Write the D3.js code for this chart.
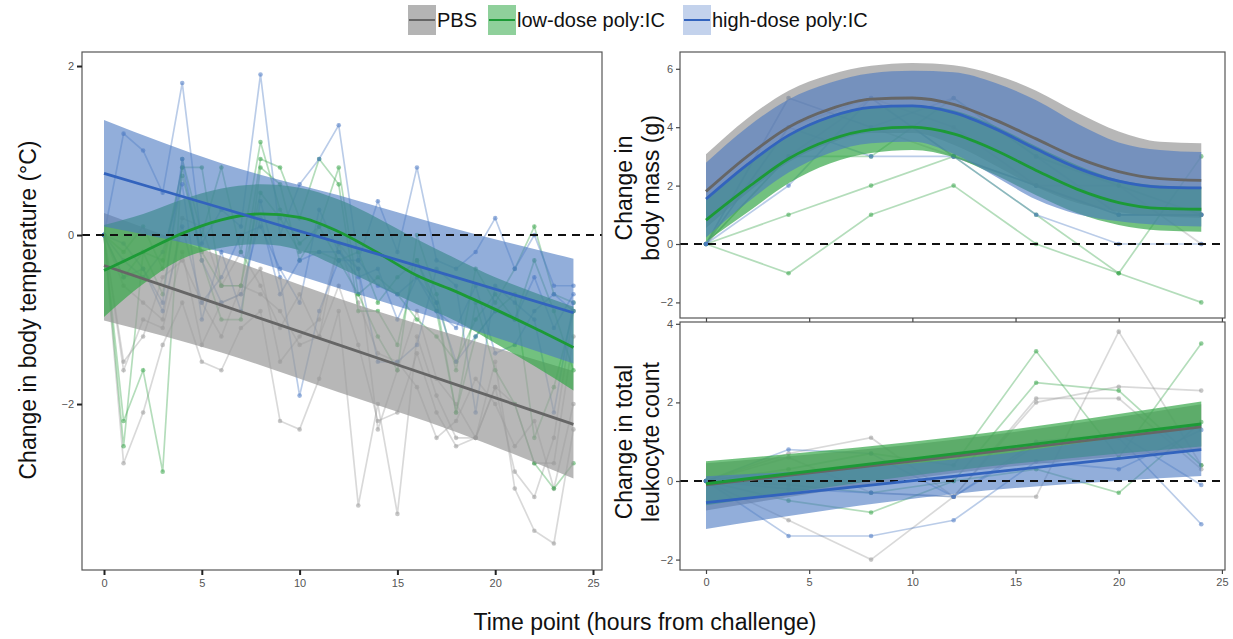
<!DOCTYPE html>
<html><head><meta charset="utf-8">
<script src="https://cdn.jsdelivr.net/npm/d3@7"></script>
<style>body{margin:0;background:#fff;} text{font-family:"Liberation Sans",Arial,sans-serif;}</style>
</head><body>
<script>
// ---------- DATA ----------
const groups = ["PBS", "low-dose poly:IC", "high-dose poly:IC"];

// Body temperature (hourly)
const tempHours = [0,1,2,3,4,5,6,7,8,9,10,11,12,13,14,15,16,17,18,19,20,21,22,23,24];
const tempPBS = [
  [0,-2.7,-2.1,-1.3,-0.8,-1.5,-1.6,-1.1,-0.9,-2.2,-2.3,-1.7,-0.9,-3.2,-2.0,-3.3,-1.2,-1.9,-2.4,-2.4,-1.5,-3.0,-3.5,-3.65,-2.3],
  [0,-1.6,-1.0,-1.1,-0.2,-1.3,-0.8,-0.7,-0.4,-1.5,-1.2,-1.0,-0.1,-0.4,-2.3,-1.6,-0.9,-1.7,-2.0,-2.4,-1.8,-2.8,-3.1,-2.4,-0.9],
  [0,-1.5,-1.2,-0.5,-0.3,-0.8,-1.2,-0.6,-0.7,-0.9,-1.3,-1.2,-0.6,-1.3,-2.2,-2.1,-1.4,-2.1,-2.5,-2.4,-1.8,-2.0,-2.7,-2.7,-1.2],
  [0,-0.6,-0.8,-1.0,0.2,0.1,-0.6,-0.2,-0.6,-1.1,-0.7,-1.2,-0.1,-0.8,-1.4,-1.5,-1.8,-2.4,-2.2,-1.7,-2.0,-2.5,-2.2,-3.0,-2.0]
];
const tempLow = [
  [0,-2.2,-1.6,-2.8,0.9,0.0,0.8,-0.2,1.1,0.3,-0.1,0.1,0.8,-0.7,-1.2,-1.6,0.0,-0.7,-1.6,-0.4,-0.8,-0.4,0.1,-0.7,-0.8],
  [0,-2.5,-0.2,-0.7,0.7,-0.2,-0.6,-0.6,0.9,0.8,0.2,0.9,0.6,-0.9,-0.9,-1.3,-0.3,-0.9,-2.1,-0.8,-1.6,-2.0,-2.7,-3.0,-2.7],
  [0,-0.2,0.1,-0.4,0.8,0.8,-0.6,-0.6,0.5,0.2,-0.2,-0.2,-0.3,-0.7,-0.5,-0.7,-1.0,-1.2,-1.5,-1.0,-0.7,-1.0,-0.3,-0.9,-1.6],
  [0,-0.5,-0.2,-0.3,0.8,-0.3,-1.0,-1.0,0.8,0.6,-0.3,0.1,-0.3,-0.2,-0.8,-0.5,-0.3,-0.8,-2.1,-1.2,-0.9,-0.7,-2.4,-1.8,-0.9]
];
const tempHigh = [
  [0,1.2,1.0,0.5,1.8,-0.1,0.3,0.1,1.9,0.0,0.6,0.9,1.3,-0.3,0.4,-0.2,0.8,-0.3,-0.4,-0.2,0.2,-0.4,0.0,-0.6,-0.6],
  [0,-0.5,-0.4,-0.9,0.1,-0.8,-0.5,0.0,0.1,-0.4,-0.8,0.3,-0.2,-0.4,-1.5,-1.5,-1.3,-0.4,-0.6,-2.1,-0.6,-0.8,-1.0,-2.1,-0.8],
  [0,-0.3,-0.5,-0.2,0.6,-1.0,-0.2,-0.9,0.4,-0.5,-1.9,-0.9,-0.3,-0.3,-0.6,-0.7,-0.5,-0.9,-1.1,-0.6,-1.4,-1.3,-0.9,-0.7,-0.9],
  [0,-0.1,-0.4,-0.8,0.9,-0.3,-0.8,-0.7,0.2,-0.7,-0.3,-0.2,-0.2,-0.5,-0.4,-1.0,-0.5,-0.8,-1.5,-1.2,-0.9,-1.0,-0.5,-1.1,-0.7]
];
// Temperature fits
const tempFitLinT = [0, 6, 12, 18, 24];
const tempFitPBS = [-0.36, -0.83, -1.30, -1.77, -2.24];
const tempHiPBS  = [0.26, -0.25, -0.75, -1.19, -1.61];
const tempLoPBS  = [-1.01, -1.39, -1.86, -2.33, -2.88];
const tempFitHigh = [0.73, 0.32, -0.09, -0.50, -0.92];
const tempHiHigh  = [1.36, 0.85, 0.47, 0.07, -0.28];
const tempLoHigh  = [0.10, -0.20, -0.63, -1.06, -1.52];
const tempFitSmT = [0,2,4,6,8,10,12,14,16,18,20,22,24];
const tempFitLow = [-0.42,-0.20,0.02,0.18,0.25,0.21,0.04,-0.21,-0.48,-0.67,-0.88,-1.10,-1.33];
const tempHiLow  = [0.12,0.25,0.42,0.55,0.60,0.56,0.42,0.20,-0.05,-0.28,-0.50,-0.68,-0.85];
const tempLoLow  = [-0.97,-0.58,-0.28,-0.15,-0.11,-0.18,-0.38,-0.60,-0.82,-1.02,-1.28,-1.55,-1.84];

// Body mass (every 4 h)
const sampleHours = [0,4,8,12,16,20,24];
const massPBS  = [[0,5,4,3,2,1,1],[0,4,5,4,2,2,0],[0,3,5,3,2,1,1]];
const massLow  = [[0,-1,1,2,0,-1,-2],[0,1,2,3,1,-1,3],[0,3,3,5,3,2,1]];
const massHigh = [[0,2,5,3,2,1,1],[0,4,3,3,1,0,0],[0,5,4,5,3,1,1]];
const massFitT = [0,2,4,6,8,10,12,14,16,18,20,22,24];
const massFitPBS = [1.8,3.0,4.0,4.62,4.96,5.0,4.78,4.25,3.6,2.95,2.48,2.24,2.18];
const massHiPBS  = [3.07,4.3,5.25,5.8,6.1,6.2,6.12,5.8,5.25,4.5,3.85,3.5,3.45];
const massLoPBS  = [0.55,1.75,2.8,3.45,3.8,3.8,3.4,2.7,1.95,1.4,1.1,0.95,0.9];
const massFitHigh = [1.54,2.72,3.72,4.35,4.68,4.73,4.5,3.95,3.25,2.6,2.15,1.95,1.92];
const massHiHigh  = [2.78,4.0,4.95,5.52,5.85,5.93,5.88,5.52,4.92,4.12,3.48,3.22,3.15];
const massLoHigh  = [0.22,1.42,2.45,3.12,3.45,3.5,3.08,2.32,1.52,1.02,0.78,0.65,0.6];
const massFitLow = [0.82,1.92,2.92,3.57,3.92,4.0,3.77,3.22,2.52,1.87,1.42,1.22,1.19];
const massHiLow  = [1.55,2.75,3.75,4.4,4.7,4.75,4.58,4.05,3.35,2.7,2.2,2.0,1.95];
const massLoLow  = [0.08,1.08,2.08,2.76,3.12,3.22,2.97,2.37,1.67,1.05,0.65,0.46,0.42];

// Leukocyte count (every 4 h)
const leukPBS  = [[0,0.7,1.1,-0.4,2.0,2.4,2.3],[0,-1.0,-2.0,-0.4,2.1,2.1,0.3],[0,0.6,-0.3,-0.4,-0.4,3.8,0.4]];
const leukLow  = [[0,0.3,0.7,0.4,3.3,0.6,3.5],[0,-0.5,-0.8,0.0,2.5,2.3,0.4],[0,-0.1,-0.3,0.0,0.3,-0.3,1.5]];
const leukHigh = [[0,0.8,0.7,-0.4,1.0,1.2,-0.1],[0,-1.4,-1.4,-1.0,0.5,0.3,1.3],[0,-0.2,-0.3,-0.4,0.9,1.1,-1.1]];
const leukFitT = [0, 12, 24];
const leukFitPBS = [-0.1, 0.63, 1.38];
const leukHiPBS  = [0.45, 1.05, 1.95];
const leukLoPBS  = [-0.75, 0.2, 0.8];
const leukFitLow = [-0.07, 0.69, 1.45];
const leukHiLow  = [0.5, 1.12, 2.02];
const leukLoLow  = [-0.62, 0.27, 0.88];
const leukFitHigh = [-0.55, 0.12, 0.8];
const leukHiHigh  = [0.12, 0.55, 1.45];
const leukLoHigh  = [-1.22, -0.33, 0.13];

const xTickVals = [0,5,10,15,20,25];

// ---------- STYLE ----------
const rawCol  = {PBS:"#9a9a9a", low:"#3aa54c", high:"#4a78c2"};
const bandCol = {PBS:"#999999", low:"#36a648", high:"#4a78c2"};
const bandOp  = {PBS:0.7, low:0.7, high:0.6};
const fitCol  = {PBS:"#666666", low:"#1c9a36", high:"#3263bd"};
const keys = ["PBS","low","high"];

const W = 1233, H = 639;
const svg = d3.select("body").append("svg").attr("width", W).attr("height", H);

function panel(cfg, idx) {
  const x = d3.scaleLinear().domain(cfg.xd).range([cfg.x0, cfg.x1]);
  const y = d3.scaleLinear().domain(cfg.yd).range([cfg.y1, cfg.y0]);
  const g = svg.append("g");
  const cid = "clip" + idx;
  svg.append("clipPath").attr("id", cid).append("rect")
    .attr("x", cfg.x0).attr("y", cfg.y0).attr("width", cfg.x1 - cfg.x0).attr("height", cfg.y1 - cfg.y0);
  const pg = g.append("g").attr("clip-path", `url(#${cid})`);

  // raw individual lines
  keys.forEach(k => {
    cfg.raw[k].forEach(series => {
      const pts = cfg.rawT.map((t, i) => [t, series[i]]);
      pg.append("path").attr("d", d3.line().x(d => x(d[0])).y(d => y(d[1]))(pts))
        .attr("fill", "none").attr("stroke", rawCol[k]).attr("stroke-opacity", 0.38).attr("stroke-width", 1.7);
      pg.selectAll(null).data(pts).enter().append("circle")
        .attr("cx", d => x(d[0])).attr("cy", d => y(d[1])).attr("r", 2.3)
        .attr("fill", rawCol[k]).attr("fill-opacity", 0.55);
    });
  });
  // bands
  keys.forEach(k => {
    const f = cfg.fit[k];
    const pts = f.t.map((t, i) => ({t, lo: f.lo[i], hi: f.hi[i]}));
    pg.append("path").attr("d", d3.area().curve(d3.curveMonotoneX)
        .x(d => x(d.t)).y0(d => y(d.lo)).y1(d => y(d.hi))(pts))
      .attr("fill", bandCol[k]).attr("fill-opacity", bandOp[k]);
  });
  // dashed zero line
  pg.append("line").attr("x1", cfg.x0).attr("x2", cfg.x1).attr("y1", y(0)).attr("y2", y(0))
    .attr("stroke", "#111").attr("stroke-width", 2).attr("stroke-dasharray", "8,6");
  // fit lines
  keys.forEach(k => {
    const f = cfg.fit[k];
    const pts = f.t.map((t, i) => [t, f.m[i]]);
    pg.append("path").attr("d", d3.line().curve(d3.curveMonotoneX).x(d => x(d[0])).y(d => y(d[1]))(pts))
      .attr("fill", "none").attr("stroke", fitCol[k]).attr("stroke-width", 2.8);
  });
  // border
  g.append("rect").attr("x", cfg.x0).attr("y", cfg.y0).attr("width", cfg.x1 - cfg.x0).attr("height", cfg.y1 - cfg.y0)
    .attr("fill", "none").attr("stroke", "#555").attr("stroke-width", 1.2);
  // axes
  const ya = g.append("g").attr("transform", `translate(${cfg.x0},0)`)
    .call(d3.axisLeft(y).tickValues(cfg.yTicks).tickSize(cfg.tick).tickPadding(3).tickFormat(d3.format("d")));
  ya.select(".domain").remove();
  ya.selectAll(".tick line").attr("stroke", cfg.tickCol).attr("stroke-width", cfg.tickW);
  ya.selectAll(".tick text").attr("fill", "#555").attr("font-size", 11).attr("font-family", "Liberation Sans, Arial");
  const xa = g.append("g").attr("transform", `translate(0,${cfg.y1})`)
    .call(d3.axisBottom(x).tickValues(xTickVals).tickSize(cfg.tick).tickPadding(4).tickFormat(cfg.xLabels ? d3.format("d") : ""));
  xa.select(".domain").remove();
  xa.selectAll(".tick line").attr("stroke", cfg.tickCol).attr("stroke-width", cfg.tickW);
  xa.selectAll(".tick text").attr("fill", "#555").attr("font-size", 11).attr("font-family", "Liberation Sans, Arial");
}

// left: temperature
panel({
  x0: 82, x1: 602, y0: 52, y1: 570,
  xd: [-1.125, 25.46], yd: [-3.964, 2.166], yTicks: [-2, 0, 2], xLabels: true, tick: 5, tickW: 2, tickCol: "#222",
  rawT: tempHours,
  raw: {PBS: tempPBS, low: tempLow, high: tempHigh},
  fit: {
    PBS: {t: tempFitLinT, m: tempFitPBS, lo: tempLoPBS, hi: tempHiPBS},
    low: {t: tempFitSmT, m: tempFitLow, lo: tempLoLow, hi: tempHiLow},
    high: {t: tempFitLinT, m: tempFitHigh, lo: tempLoHigh, hi: tempHiHigh}
  }
}, 0);

// top right: body mass
panel({
  x0: 680, x1: 1225, y0: 52, y1: 318,
  xd: [-1.26, 25.15], yd: [-2.534, 6.575], yTicks: [-2, 0, 2, 4, 6], xLabels: false, tick: 4, tickW: 1.2, tickCol: "#444",
  rawT: sampleHours,
  raw: {PBS: massPBS, low: massLow, high: massHigh},
  fit: {
    PBS: {t: massFitT, m: massFitPBS, lo: massLoPBS, hi: massHiPBS},
    low: {t: massFitT, m: massFitLow, lo: massLoLow, hi: massHiLow},
    high: {t: massFitT, m: massFitHigh, lo: massLoHigh, hi: massHiHigh}
  }
}, 1);

// bottom right: leukocytes
panel({
  x0: 680, x1: 1225, y0: 322, y1: 570,
  xd: [-1.26, 25.15], yd: [-2.265, 4.046], yTicks: [-2, 0, 2, 4], xLabels: true, tick: 4, tickW: 1.2, tickCol: "#444",
  rawT: sampleHours,
  raw: {PBS: leukPBS, low: leukLow, high: leukHigh},
  fit: {
    PBS: {t: leukFitT, m: leukFitPBS, lo: leukLoPBS, hi: leukHiPBS},
    low: {t: leukFitT, m: leukFitLow, lo: leukLoLow, hi: leukHiLow},
    high: {t: leukFitT, m: leukFitHigh, lo: leukLoHigh, hi: leukHiHigh}
  }
}, 2);

// ---------- TITLES ----------
const tf = "Liberation Sans, Arial, sans-serif";
const TS = 23;
svg.append("text").attr("transform", "translate(36,310) rotate(-90)").attr("text-anchor", "middle")
  .attr("font-size", TS).attr("font-family", tf).attr("fill", "#111").text("Change in body temperature (°C)");
svg.append("text").attr("transform", "translate(632,188) rotate(-90)").attr("text-anchor", "middle")
  .attr("font-size", TS).attr("font-family", tf).attr("fill", "#111").text("Change in");
svg.append("text").attr("transform", "translate(659,188) rotate(-90)").attr("text-anchor", "middle")
  .attr("font-size", TS).attr("font-family", tf).attr("fill", "#111").text("body mass (g)");
svg.append("text").attr("transform", "translate(632,442) rotate(-90)").attr("text-anchor", "middle")
  .attr("font-size", TS).attr("font-family", tf).attr("fill", "#111").text("Change in total");
svg.append("text").attr("transform", "translate(659,442) rotate(-90)").attr("text-anchor", "middle")
  .attr("font-size", TS).attr("font-family", tf).attr("fill", "#111").text("leukocyte count");
svg.append("text").attr("x", 645).attr("y", 630).attr("text-anchor", "middle")
  .attr("font-size", TS).attr("font-family", tf).attr("fill", "#111").text("Time point (hours from challenge)");

// ---------- LEGEND ----------
const legKeyFill = {PBS:"#b4b4b4", low:"#8fd09b", high:"#c3d2ec"};
const legX = [408, 488, 683];
keys.forEach((k, i) => {
  const lg = svg.append("g").attr("transform", `translate(${legX[i]},5)`);
  lg.append("rect").attr("width", 28).attr("height", 30).attr("fill", legKeyFill[k]);
  lg.append("line").attr("x1", 1).attr("x2", 27).attr("y1", 15).attr("y2", 15)
    .attr("stroke", fitCol[k]).attr("stroke-width", 2);
  lg.append("text").attr("x", 29).attr("y", 22).attr("font-size", 20).attr("font-family", tf)
    .attr("fill", "#111").text(groups[i]);
});
</script>
</body></html>
